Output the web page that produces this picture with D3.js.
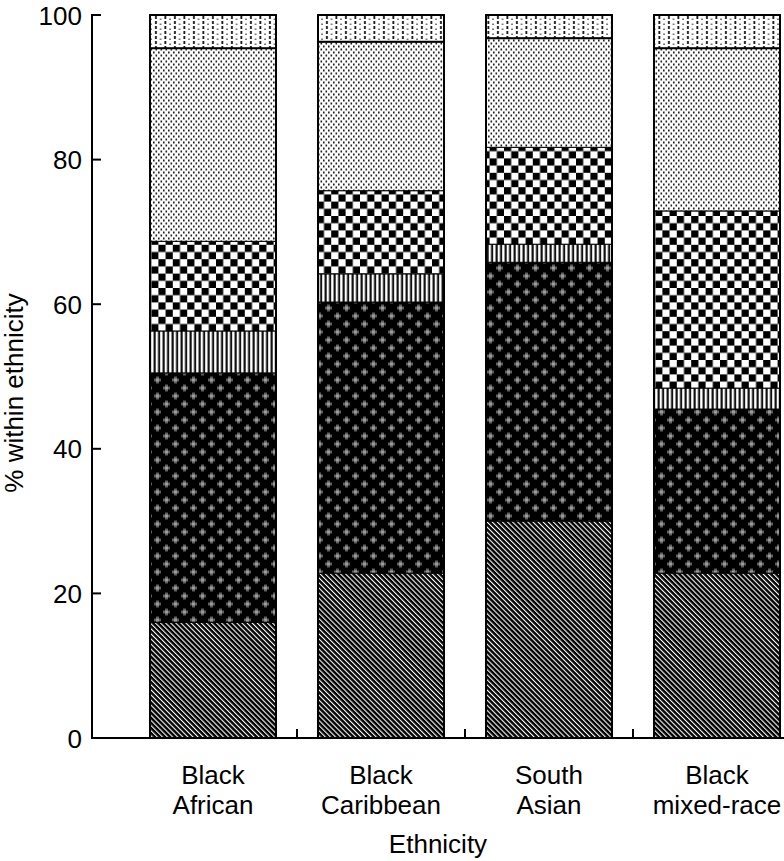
<!DOCTYPE html>
<html lang="en">
<head>
    <meta charset="UTF-8">
    <title>% within ethnicity by ethnicity</title>
    <script src="https://d3js.org/d3.v7.min.js"></script>
    <style>
        body { margin: 0; background: #fff; }
        svg { display: block; }
        text { font-family: "Liberation Sans", Arial, Helvetica, sans-serif; fill: #000; }
    </style>
</head>
<body>
    <svg id="chart" width="784" height="861"></svg>
    <script>
        // categories on the x axis
        const categories = ["Black African", "Black Caribbean", "South Asian", "Black mixed-race"];
        const tickLines = [["Black", "African"], ["Black", "Caribbean"], ["South", "Asian"], ["Black", "mixed-race"]];

        // stacked segments, bottom to top (% within ethnicity)
        const seriesKeys = ["s1", "s2", "s3", "s4", "s5", "s6"];
        const s1 = [16.0, 22.8, 30.0, 22.8];
        const s2 = [34.5, 37.5, 35.8, 22.7];
        const s3 = [5.8, 3.9, 2.5, 2.9];
        const s4 = [12.4, 11.5, 13.4, 24.5];
        const s5 = [26.7, 20.6, 15.1, 22.5];
        const s6 = [4.6, 3.7, 3.2, 4.6];
        const yTicks = [0, 20, 40, 60, 80, 100];

        const rows = categories.map((c, i) => ({
            cat: c, s1: s1[i], s2: s2[i], s3: s3[i], s4: s4[i], s5: s5[i], s6: s6[i]
        }));

        const svg = d3.select("#chart");
        const plotLeft = 92, plotRight = 784, plotTop = 15, plotBottom = 738;
        const fontSize = 26;

        const x = d3.scaleBand()
            .domain(categories)
            .range([129, 801])
            .paddingInner(0.25)
            .paddingOuter(0.125);
        const y = d3.scaleLinear().domain([0, 100]).range([plotBottom, plotTop]);

        // fill patterns, one per segment
        const defs = svg.append("defs");

        // diagonal white lines on black
        const p1 = defs.append("pattern").attr("id", "p1").attr("patternUnits", "userSpaceOnUse")
            .attr("width", 3.6).attr("height", 10).attr("patternTransform", "rotate(-45)");
        p1.append("rect").attr("width", 3.6).attr("height", 10).attr("fill", "#000");
        p1.append("rect").attr("x", 0).attr("width", 1.1).attr("height", 10).attr("fill", "#fff");

        // black with grey blurred crosses, staggered
        const p2 = defs.append("pattern").attr("id", "p2").attr("patternUnits", "userSpaceOnUse")
            .attr("width", 18).attr("height", 16);
        p2.append("rect").attr("width", 18).attr("height", 16).attr("fill", "#000");
        [[4.5, 4], [13.5, 12]].forEach(([cx, cy]) => {
            p2.append("rect").attr("x", cx - 3.5).attr("y", cy - 1.5).attr("width", 7).attr("height", 3).attr("fill", "#5e5e5e");
            p2.append("rect").attr("x", cx - 1.5).attr("y", cy - 3.5).attr("width", 3).attr("height", 7).attr("fill", "#5e5e5e");
            p2.append("rect").attr("x", cx - 1.5).attr("y", cy - 1.5).attr("width", 3).attr("height", 3).attr("fill", "#9a9a9a");
        });

        // vertical stripes
        const p3 = defs.append("pattern").attr("id", "p3").attr("patternUnits", "userSpaceOnUse")
            .attr("width", 4.5).attr("height", 10);
        p3.append("rect").attr("width", 4.5).attr("height", 10).attr("fill", "#fff");
        p3.append("rect").attr("x", 0.5).attr("width", 2.2).attr("height", 10).attr("fill", "#111");

        // checkerboard
        const cs = 7.2;
        const p4 = defs.append("pattern").attr("id", "p4").attr("patternUnits", "userSpaceOnUse")
            .attr("width", cs * 2).attr("height", cs * 2);
        p4.append("rect").attr("width", cs * 2).attr("height", cs * 2).attr("fill", "#fff");
        p4.append("rect").attr("width", cs).attr("height", cs).attr("fill", "#000");
        p4.append("rect").attr("x", cs).attr("y", cs).attr("width", cs).attr("height", cs).attr("fill", "#000");

        // fine dots on white
        const p5 = defs.append("pattern").attr("id", "p5").attr("patternUnits", "userSpaceOnUse")
            .attr("width", 5).attr("height", 6);
        p5.append("rect").attr("width", 5).attr("height", 6).attr("fill", "#fff");
        p5.append("rect").attr("x", 0.5).attr("y", 0.5).attr("width", 1.6).attr("height", 2).attr("fill", "#222");
        p5.append("rect").attr("x", 3).attr("y", 3.5).attr("width", 1.6).attr("height", 2).attr("fill", "#222");

        // sparse vertical dashes on white
        const p6 = defs.append("pattern").attr("id", "p6").attr("patternUnits", "userSpaceOnUse")
            .attr("width", 9.5).attr("height", 5);
        p6.append("rect").attr("width", 9.5).attr("height", 5).attr("fill", "#fff");
        p6.append("rect").attr("x", 3).attr("y", 1).attr("width", 1.8).attr("height", 3).attr("fill", "#111");
        p6.append("rect").attr("x", 7.8).attr("y", 3.5).attr("width", 1.5).attr("height", 2.6).attr("fill", "#555");

        const fills = { s1: "url(#p1)", s2: "url(#p2)", s3: "url(#p3)", s4: "url(#p4)", s5: "url(#p5)", s6: "url(#p6)" };

        const stacked = d3.stack().keys(seriesKeys)(rows);

        const layers = svg.append("g").selectAll("g")
            .data(stacked)
            .join("g")
            .attr("fill", d => fills[d.key]);

        layers.selectAll("rect")
            .data(d => d)
            .join("rect")
            .attr("x", d => x(d.data.cat))
            .attr("y", d => y(d[1]))
            .attr("width", x.bandwidth())
            .attr("height", d => y(d[0]) - y(d[1]))
            .attr("stroke", "#000")
            .attr("stroke-width", 1);

        // heavier line under the top segment
        svg.append("g").selectAll("line")
            .data(stacked[5])
            .join("line")
            .attr("x1", d => x(d.data.cat))
            .attr("x2", d => x(d.data.cat) + x.bandwidth())
            .attr("y1", d => y(d[0]))
            .attr("y2", d => y(d[0]))
            .attr("stroke", "#000")
            .attr("stroke-width", 2);

        // bar outlines
        svg.append("g").selectAll("rect")
            .data(rows)
            .join("rect")
            .attr("x", d => x(d.cat))
            .attr("y", y(100))
            .attr("width", x.bandwidth())
            .attr("height", y(0) - y(100))
            .attr("fill", "none")
            .attr("stroke", "#000")
            .attr("stroke-width", 2);

        // y axis, ticks pointing inwards
        const yAxis = svg.append("g").attr("transform", `translate(${plotLeft},0)`);
        yAxis.append("line").attr("y1", plotTop - 1).attr("y2", plotBottom).attr("stroke", "#000").attr("stroke-width", 2);
        yAxis.selectAll(".tick")
            .data(yTicks)
            .join("line")
            .attr("x1", 0).attr("x2", 9)
            .attr("y1", d => y(d)).attr("y2", d => y(d))
            .attr("stroke", "#000").attr("stroke-width", 2);
        yAxis.selectAll("text")
            .data(yTicks)
            .join("text")
            .attr("x", -10)
            .attr("y", d => y(d) + 9.5)
            .attr("text-anchor", "end")
            .attr("font-size", fontSize)
            .text(d => d);

        // x axis, ticks between the bars pointing up
        const xAxis = svg.append("g");
        xAxis.append("line").attr("x1", plotLeft - 1).attr("x2", plotRight).attr("y1", plotBottom).attr("y2", plotBottom)
            .attr("stroke", "#000").attr("stroke-width", 2);
        const gap = x.step() - x.bandwidth();
        xAxis.selectAll(".sep")
            .data(categories.slice(0, -1))
            .join("line")
            .attr("x1", d => x(d) + x.bandwidth() + gap / 2)
            .attr("x2", d => x(d) + x.bandwidth() + gap / 2)
            .attr("y1", plotBottom).attr("y2", plotBottom - 9)
            .attr("stroke", "#000").attr("stroke-width", 2);

        const labels = xAxis.selectAll(".lab")
            .data(categories)
            .join("text")
            .attr("text-anchor", "middle")
            .attr("font-size", fontSize)
            .attr("transform", d => `translate(${x(d) + x.bandwidth() / 2},784)`);
        labels.each(function (d, i) {
            d3.select(this).selectAll("tspan")
                .data(tickLines[i])
                .join("tspan")
                .attr("x", 0)
                .attr("dy", (t, j) => j === 0 ? 0 : 30)
                .text(t => t);
        });

        // axis titles
        svg.append("text")
            .attr("x", (plotLeft + plotRight) / 2)
            .attr("y", 853)
            .attr("text-anchor", "middle")
            .attr("font-size", fontSize)
            .text("Ethnicity");

        svg.append("text")
            .attr("transform", "translate(23,393) rotate(-90)")
            .attr("text-anchor", "middle")
            .attr("font-size", fontSize)
            .text("% within ethnicity");
    </script>
</body>
</html>
